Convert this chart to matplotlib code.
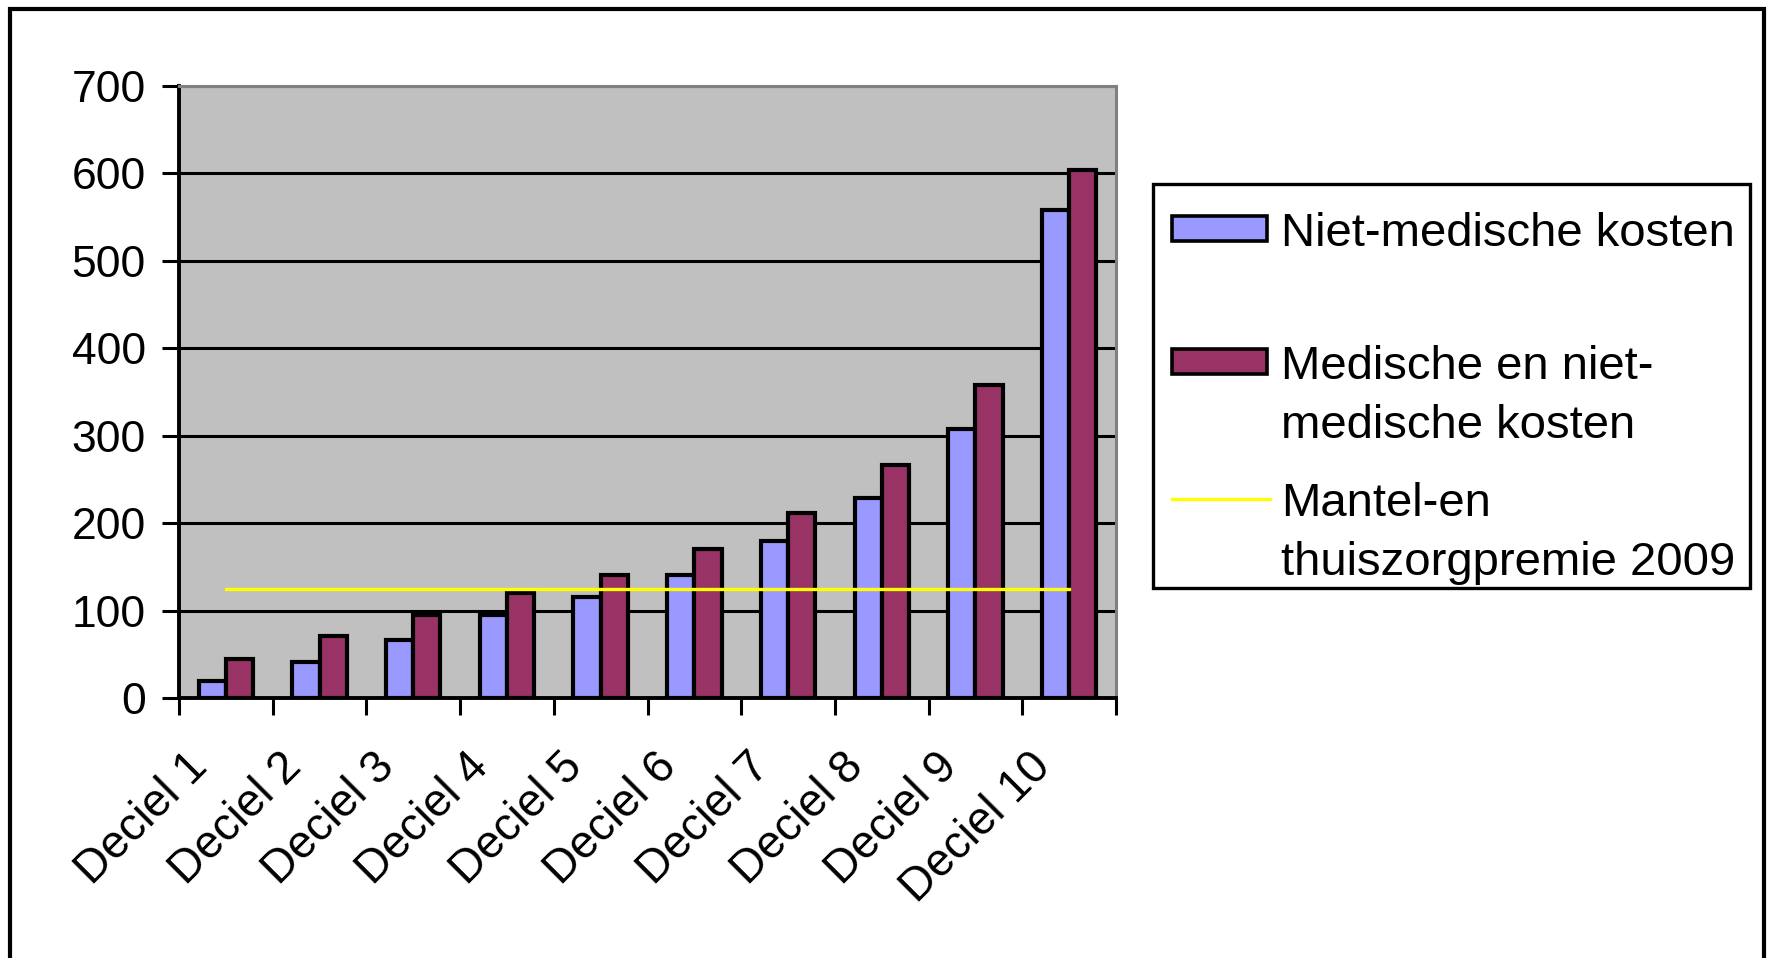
import numpy as np
import matplotlib
matplotlib.use('Agg')
import matplotlib.pyplot as plt
from matplotlib.patches import Rectangle
from matplotlib.lines import Line2D
from matplotlib.transforms import ScaledTranslation

plt.rcParams['font.family'] = ['Liberation Sans', 'DejaVu Sans']

# Bedragen per inkomensdeciel
categories = ['Deciel 1', 'Deciel 2', 'Deciel 3', 'Deciel 4', 'Deciel 5',
              'Deciel 6', 'Deciel 7', 'Deciel 8', 'Deciel 9', 'Deciel 10']
niet_medisch = [20, 41, 66, 95, 116, 141, 180, 229, 308, 558]
medisch_en_niet = [45, 71, 95, 120, 141, 170, 212, 266, 358, 604]
premie_2009 = [125] * 10
series_labels = ['Niet-medische kosten',
                 'Medische en niet-\nmedische kosten',
                 'Mantel-en\nthuiszorgpremie 2009']
yticks = [0, 100, 200, 300, 400, 500, 600, 700]

W, H = 1767, 958
fig = plt.figure(figsize=(W / 100, H / 100), dpi=100)

def px(x0, y0, x1, y1):
    # pixel box (top-left origin) -> figure fraction rect
    return [x0 / W, 1 - y1 / H, (x1 - x0) / W, (y1 - y0) / H]

# outer chart frame (bottom edge runs off the canvas)
fig.patches.append(Rectangle((10 / W, -0.05), (1764 - 10) / W, 1.05 - 9 / H,
                             transform=fig.transFigure, fill=False,
                             edgecolor='black', linewidth=3))

ax = fig.add_axes(px(179, 86, 1116, 698))
ax.set_facecolor('#C0C0C0')

x = np.arange(len(categories))
bw = 0.29
ax.bar(x - bw / 2, niet_medisch, width=bw, color='#9999FF',
       edgecolor='black', linewidth=3, zorder=3)
ax.bar(x + bw / 2, medisch_en_niet, width=bw, color='#993366',
       edgecolor='black', linewidth=3, zorder=3)
ax.plot(x, premie_2009, color='#FFFF00', linewidth=2.4, zorder=4)

ax.set_xlim(-0.5, len(categories) - 0.5)
ax.set_ylim(0, 700)
ax.set_yticks(yticks)
ax.set_yticklabels([str(v) for v in yticks], fontsize=32)
ax.yaxis.grid(True, color='black', linewidth=2.2, zorder=1)
ax.set_axisbelow(True)

# tick marks between the categories; rotated category names under each group
ax.set_xticks(np.arange(len(categories) + 1) - 0.5)
ax.set_xticklabels([])
ax.tick_params(axis='x', which='major', length=12, width=2.2, direction='out')
ax.tick_params(axis='y', length=12, width=2.2, direction='out', pad=12)
lab_tr = ax.get_xaxis_transform() + ScaledTranslation(-25 / 100, -62 / 100,
                                                      fig.dpi_scale_trans)
for xi, name in zip(x, categories):
    ax.text(xi, 0, name, transform=lab_tr, fontsize=33, rotation=45,
            ha='right', va='center', rotation_mode='anchor', clip_on=False)

for s in ('left', 'bottom'):
    ax.spines[s].set_linewidth(2.8)
    ax.spines[s].set_color('black')
for s in ('top', 'right'):
    ax.spines[s].set_linewidth(2.2)
    ax.spines[s].set_color('#808080')

# legend box
lax = fig.add_axes([0, 0, 1, 1], facecolor='none')
lax.set_xlim(0, W)
lax.set_ylim(H, 0)
lax.axis('off')
lax.add_patch(Rectangle((1153, 184), 1750 - 1153, 588 - 184, fill=False,
                        edgecolor='black', linewidth=2.4))
lax.add_patch(Rectangle((1172, 216), 95, 25, facecolor='#9999FF',
                        edgecolor='black', linewidth=2.6))
lax.add_patch(Rectangle((1172, 349), 95, 25, facecolor='#993366',
                        edgecolor='black', linewidth=2.6))
lax.add_line(Line2D([1172, 1270], [499, 499], color='#FFFF00', linewidth=2.4))
# each entry's first line sits level with its key, further lines below
for label, yfirst in zip(series_labels, [229, 362, 499]):
    for i, line in enumerate(label.split('\n')):
        lax.text(1281, yfirst + i * 59, line, fontsize=34, ha='left',
                 va='center_baseline')

fig.savefig('out.png', dpi=100)
